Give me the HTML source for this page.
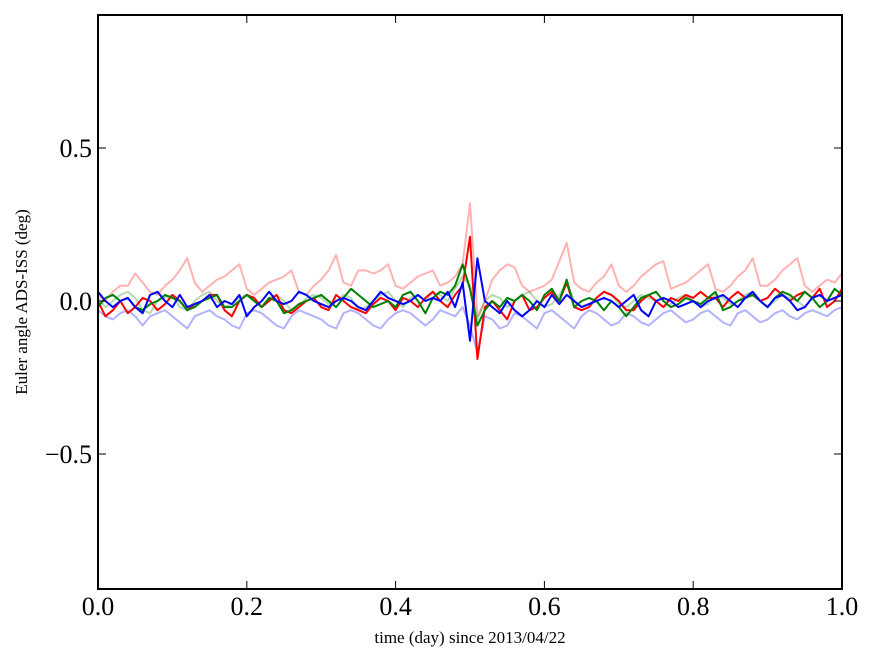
<!DOCTYPE html>
<html><head><meta charset="utf-8"><style>
html,body{margin:0;padding:0;background:#fff;}
svg{display:block;font-family:"Liberation Serif",serif;}
</style></head><body>
<svg id="chart" width="875" height="662" viewBox="0 0 875 662">
<rect x="0" y="0" width="875" height="662" fill="#fff"/>
<g id="series"></g>
<g id="axes"></g>
<text x="470" y="643" font-size="17" text-anchor="middle">time (day) since 2013/04/22</text>
<text transform="translate(27,302) rotate(-90)" font-size="17" text-anchor="middle">Euler angle ADS-ISS (deg)</text>
</svg>
<script>
const xTicks=[0,0.2,0.4,0.6,0.8,1.0];
const xTickLabels=["0.0","0.2","0.4","0.6","0.8","1.0"];
const yTicks=[-0.5,0,0.5];
const yTickLabels=["\u22120.5","0.0","0.5"];
const lightRed=[0.02,0.0,0.03,0.05,0.05,0.09,0.06,0.03,0.02,0.05,0.07,0.1,0.14,0.06,0.03,0.05,0.07,0.08,0.1,0.12,0.04,0.02,0.04,0.06,0.07,0.08,0.1,0.03,0.02,0.05,0.07,0.1,0.15,0.06,0.05,0.1,0.1,0.09,0.1,0.12,0.05,0.04,0.06,0.08,0.09,0.1,0.05,0.06,0.08,0.12,0.32,-0.05,0.0,0.07,0.1,0.12,0.11,0.05,0.03,0.04,0.05,0.07,0.13,0.19,0.06,0.04,0.03,0.06,0.08,0.12,0.05,0.03,0.05,0.08,0.1,0.12,0.13,0.04,0.05,0.06,0.08,0.1,0.12,0.04,0.03,0.05,0.08,0.1,0.14,0.05,0.05,0.07,0.1,0.12,0.14,0.05,0.03,0.05,0.07,0.06,0.09];
const lightGreen=[0.01,-0.02,0.0,0.02,0.03,0.01,-0.03,-0.04,0.0,0.01,0.02,-0.02,-0.03,0.0,0.02,0.03,0.0,-0.02,-0.01,0.01,0.02,0.0,-0.02,0.01,0.02,0.0,-0.03,-0.02,0.01,0.02,0.01,-0.01,0.0,0.02,0.01,-0.03,-0.02,0.0,0.02,0.03,0.0,-0.02,0.01,0.02,0.0,0.03,0.02,0.0,0.04,0.08,0.05,-0.06,0.0,0.02,0.01,-0.02,0.0,0.02,0.03,0.0,-0.02,-0.01,0.02,0.06,0.0,-0.02,-0.01,0.01,0.03,0.02,-0.01,-0.02,0.0,0.02,0.01,0.0,-0.02,-0.01,0.01,0.02,0.0,-0.02,-0.01,0.02,0.01,-0.01,0.0,0.02,0.03,0.0,-0.02,0.0,0.02,0.01,0.0,-0.02,0.01,0.02,0.0,0.01,0.02];
const lightBlue=[-0.03,-0.05,-0.06,-0.04,-0.03,-0.05,-0.08,-0.05,-0.04,-0.03,-0.05,-0.07,-0.09,-0.05,-0.04,-0.03,-0.05,-0.06,-0.08,-0.09,-0.04,-0.03,-0.04,-0.06,-0.08,-0.09,-0.05,-0.03,-0.04,-0.05,-0.06,-0.08,-0.09,-0.04,-0.03,-0.04,-0.06,-0.08,-0.09,-0.06,-0.04,-0.03,-0.04,-0.06,-0.08,-0.06,-0.03,-0.04,-0.05,-0.02,-0.08,-0.17,-0.05,-0.06,-0.09,-0.08,-0.04,-0.05,-0.07,-0.09,-0.04,-0.03,-0.05,-0.07,-0.09,-0.05,-0.03,-0.04,-0.06,-0.08,-0.07,-0.04,-0.05,-0.07,-0.08,-0.06,-0.04,-0.03,-0.05,-0.07,-0.06,-0.04,-0.03,-0.05,-0.07,-0.08,-0.04,-0.03,-0.05,-0.07,-0.06,-0.04,-0.03,-0.05,-0.06,-0.04,-0.03,-0.04,-0.05,-0.03,-0.02];
const red=[0.0,-0.05,-0.03,0.0,-0.04,-0.02,0.01,0.0,-0.03,-0.01,0.02,0.0,-0.03,-0.01,0.0,0.02,0.02,-0.03,-0.05,0.0,0.02,0.01,-0.02,0.0,0.02,-0.03,-0.04,-0.02,0.0,0.01,-0.02,-0.03,0.02,0.0,-0.02,-0.03,-0.04,-0.01,0.01,0.0,-0.03,0.01,0.0,-0.02,0.01,0.03,0.0,-0.02,0.02,0.05,0.21,-0.19,-0.02,0.0,-0.03,-0.06,0.0,0.02,-0.03,-0.02,0.01,0.03,0.0,0.06,-0.02,-0.03,-0.02,0.01,0.03,0.02,0.0,-0.03,-0.03,0.0,0.02,0.0,-0.02,0.01,0.0,0.02,0.01,0.03,0.01,0.01,-0.02,0.01,0.03,0.01,0.02,0.0,0.01,0.04,0.02,0.0,0.02,0.03,0.01,0.04,-0.02,0.0,0.04];
const green=[-0.02,0.01,0.02,0.0,0.01,-0.02,-0.03,-0.01,0.0,0.02,0.01,0.0,-0.03,-0.02,0.0,0.01,0.02,-0.02,-0.02,0.0,0.02,0.0,-0.02,0.01,0.0,-0.04,-0.03,-0.01,0.0,0.01,0.02,0.0,-0.02,0.01,0.04,0.02,0.0,-0.02,-0.01,0.0,-0.02,0.02,0.03,0.0,-0.04,0.01,0.03,0.02,0.05,0.12,0.04,-0.08,-0.03,0.0,-0.02,0.01,0.0,0.02,0.0,-0.03,0.02,0.04,0.0,0.07,-0.02,0.0,0.01,0.0,-0.03,0.0,-0.02,-0.05,-0.02,0.01,0.02,0.03,0.0,-0.02,-0.01,0.01,0.0,-0.01,0.01,0.03,-0.03,-0.02,0.0,0.01,0.02,0.0,-0.02,0.01,0.03,0.02,0.0,0.03,0.01,-0.02,0.0,0.04,0.02];
const blue=[0.03,0.0,-0.02,0.0,0.01,-0.02,-0.04,0.02,0.03,0.0,-0.02,0.02,-0.02,-0.01,0.0,0.02,-0.02,0.0,-0.01,0.02,-0.05,-0.02,0.0,0.03,0.0,-0.01,0.0,0.03,0.02,0.0,-0.01,-0.02,0.0,0.01,0.0,-0.02,-0.03,0.0,0.03,0.01,0.0,-0.01,0.0,0.02,0.0,0.01,0.0,0.03,-0.02,0.06,-0.13,0.14,0.0,-0.02,-0.04,0.0,-0.03,-0.05,-0.03,0.0,-0.02,0.02,-0.01,0.02,0.0,-0.02,-0.01,0.0,0.01,0.0,-0.02,0.0,0.02,-0.03,-0.05,0.0,0.01,0.0,-0.02,-0.01,0.0,-0.02,0.0,0.01,0.02,0.0,-0.02,0.01,0.03,0.0,-0.02,0.01,0.02,0.0,-0.03,-0.02,0.01,0.02,0.0,0.01,0.02];
const L=98,R=842,T=15,B=589,Y0=301,YS=306;
const xS=v=>L+(R-L)*v;
const yS=v=>Y0-YS*v;
const NS="http://www.w3.org/2000/svg";
const sg=document.getElementById('series');
const ag=document.getElementById('axes');
function line(arr,color,opacity,name){
  const p=document.createElementNS(NS,'polyline');
  p.setAttribute('points',arr.map((v,i)=>xS(i/(arr.length-1)).toFixed(1)+','+yS(v).toFixed(1)).join(' '));
  p.setAttribute('fill','none');p.setAttribute('stroke',color);p.setAttribute('stroke-width','2');p.setAttribute('stroke-opacity',opacity);
  p.setAttribute('stroke-linejoin','round');
  
  
  sg.appendChild(p);
}
line(lightRed,'#ff0000',0.3,'series-red-faint');
line(lightGreen,'#008000',0.3,'series-green-faint');
line(lightBlue,'#0000ff',0.3,'series-blue-faint');
line(red,'#ff0000',1,'series-red');
line(green,'#008000',1,'series-green');
line(blue,'#0000ff',1,'series-blue');
const fr=document.createElementNS(NS,'rect');
fr.setAttribute('x',L);fr.setAttribute('y',T);fr.setAttribute('width',R-L);fr.setAttribute('height',B-T);
fr.setAttribute('fill','none');fr.setAttribute('stroke','#000');fr.setAttribute('stroke-width','2');


ag.appendChild(fr);
function seg(x1,y1,x2,y2,name){
  const l=document.createElementNS(NS,'line');
  l.setAttribute('x1',x1);l.setAttribute('y1',y1);l.setAttribute('x2',x2);l.setAttribute('y2',y2);
  l.setAttribute('stroke','#000');l.setAttribute('stroke-width','1');
  
  
  ag.appendChild(l);
}
function label(x,y,txt,anchor,name){
  const t=document.createElementNS(NS,'text');
  t.setAttribute('x',x);t.setAttribute('y',y);t.setAttribute('font-size','26');t.setAttribute('text-anchor',anchor);
  t.textContent=txt;
  
  
  ag.appendChild(t);
}
xTicks.forEach((v,i)=>{
  const x=xS(v);
  seg(x,B,x,B-8,'x-tick');
  seg(x,T,x,T+8,'x-tick-top');
  label(x,615,xTickLabels[i],'middle','x-tick-label');
});
yTicks.forEach((v,i)=>{
  const y=yS(v);
  seg(L,y,L+8,y,'y-tick');
  seg(R,y,R-8,y,'y-tick-right');
  label(L-6,y+9,yTickLabels[i],'end','y-tick-label');
});
</script>
</body></html>
